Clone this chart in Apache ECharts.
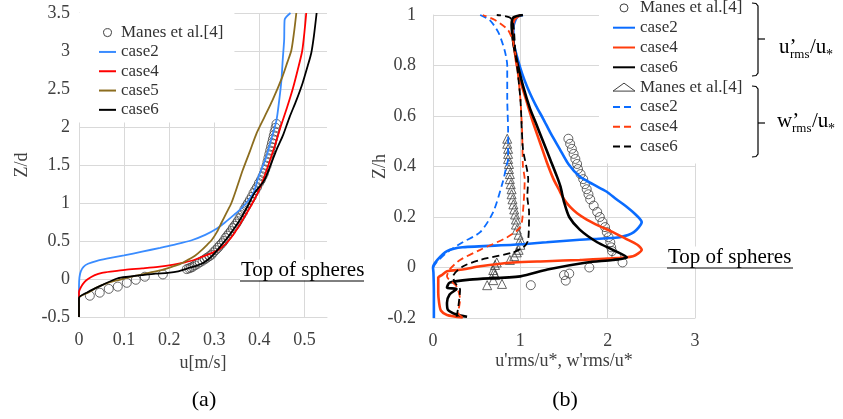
<!DOCTYPE html>
<html>
<head>
<meta charset="utf-8">
<script src="https://cdn.jsdelivr.net/npm/echarts/dist/echarts.min.js"></script>
<style>
html, body { margin: 0; padding: 0; background: #fff; }
#main { width: 843px; height: 419px; }
</style>
</head>
<body>
<div id="main"></div>
<script>
// (a) mean velocity u[m/s] vs Z/d, pairs are [u, Z/d]
var aManes = [[0.024,-0.22],[0.046,-0.18],[0.066,-0.13],[0.086,-0.1],[0.106,-0.05],[0.126,-0.01],[0.146,0.03],[0.186,0.06],[0.239,0.13],
    [0.244,0.14],[0.248,0.15],[0.252,0.16],[0.257,0.18],[0.263,0.2],[0.268,0.22],[0.274,0.24],[0.279,0.26],[0.284,0.28],[0.289,0.3],
    [0.294,0.32],[0.298,0.35],[0.303,0.38],[0.308,0.41],[0.312,0.44],[0.317,0.47],[0.321,0.5],[0.325,0.54],[0.329,0.57],[0.333,0.6],
    [0.337,0.63],[0.341,0.67],[0.345,0.7],[0.349,0.73],[0.352,0.76],[0.356,0.8],[0.36,0.84],[0.364,0.88],[0.367,0.92],[0.371,0.96],
    [0.375,1.0],[0.379,1.04],[0.383,1.08],[0.387,1.13],[0.391,1.17],[0.395,1.21],[0.399,1.26],[0.403,1.3],[0.407,1.35],[0.41,1.39],
    [0.413,1.44],[0.416,1.49],[0.418,1.54],[0.42,1.59],[0.422,1.64],[0.424,1.69],[0.426,1.74],[0.428,1.79],[0.43,1.84],[0.432,1.89],
    [0.434,1.94],[0.436,1.99],[0.438,2.04]];
var aCase2 = [[0,-0.5],[0,-0.1],[0.001,0.02],[0.004,0.1],[0.01,0.16],[0.02,0.2],[0.04,0.24],[0.064,0.27],[0.1,0.31],[0.14,0.36],
    [0.18,0.41],[0.21,0.45],[0.25,0.51],[0.28,0.58],[0.305,0.66],[0.323,0.74],[0.345,0.85],[0.36,0.93],[0.375,1.03],[0.388,1.15],
    [0.398,1.34],[0.415,1.6],[0.427,1.85],[0.438,2.09],[0.444,2.35],[0.449,2.62],[0.452,2.9],[0.455,3.15],[0.456,3.41],[0.469,3.5]];
var aCase4 = [[0,-0.5],[0,-0.17],[0.005,-0.1],[0.012,-0.04],[0.02,0],[0.035,0.05],[0.051,0.08],[0.075,0.1],[0.102,0.12],[0.14,0.14],
    [0.175,0.16],[0.21,0.19],[0.235,0.22],[0.255,0.25],[0.272,0.29],[0.29,0.33],[0.308,0.38],[0.323,0.45],[0.338,0.55],[0.352,0.67],
    [0.367,0.82],[0.382,0.97],[0.396,1.13],[0.408,1.3],[0.42,1.5],[0.434,1.75],[0.447,2.0],[0.461,2.25],[0.474,2.5],[0.485,2.75],
    [0.495,3.0],[0.5,3.25],[0.504,3.5]];
var aCase5 = [[0,-0.5],[0,-0.25],[0.02,-0.18],[0.04,-0.11],[0.064,-0.05],[0.09,-0.01],[0.117,0.03],[0.14,0.06],[0.161,0.09],[0.185,0.12],
    [0.206,0.16],[0.225,0.2],[0.241,0.25],[0.258,0.31],[0.272,0.38],[0.284,0.45],[0.294,0.51],[0.306,0.62],[0.316,0.74],[0.327,0.87],
    [0.338,1.0],[0.35,1.2],[0.363,1.43],[0.379,1.68],[0.394,1.92],[0.412,2.14],[0.429,2.35],[0.451,2.66],[0.462,2.85],[0.471,3.01],
    [0.477,3.25],[0.482,3.5]];
var aCase6 = [[0,-0.5],[0,-0.25],[0.02,-0.17],[0.051,-0.08],[0.086,0.01],[0.11,0.03],[0.139,0.05],[0.17,0.07],[0.197,0.08],[0.22,0.1],
    [0.241,0.14],[0.258,0.17],[0.272,0.2],[0.287,0.26],[0.301,0.34],[0.315,0.44],[0.33,0.55],[0.346,0.68],[0.361,0.82],[0.375,0.97],
    [0.389,1.13],[0.411,1.3],[0.425,1.5],[0.438,1.7],[0.453,1.9],[0.467,2.13],[0.482,2.35],[0.496,2.58],[0.507,2.8],[0.515,2.97],
    [0.521,3.2],[0.527,3.5]];

// (b) turbulence intensities vs Z/h, pairs are [value, Z/h]
var bManesU = [[1.55,0.51],[1.57,0.49],[1.59,0.47],[1.61,0.45],[1.63,0.43],[1.65,0.41],[1.66,0.39],[1.69,0.37],[1.72,0.35],[1.74,0.33],
    [1.76,0.31],[1.78,0.29],[1.8,0.27],[1.84,0.245],[1.88,0.22],[1.91,0.2],[1.94,0.18],[1.97,0.16],[1.99,0.14],[2.01,0.12],[2.03,0.1],
    [2.04,0.08],[2.05,0.065],[2.1,0.045],[2.17,0.02],[1.79,0.0],[1.56,-0.024],[1.5,-0.03],[1.52,-0.052],[1.12,-0.07]];
var bCase2U = [[0.01,-0.2],[0.01,-0.1],[0.005,-0.02],[0,0],[0.05,0.03],[0.16,0.065],[0.34,0.08],[0.92,0.09],[1.3,0.1],[1.68,0.11],
    [1.95,0.115],[2.14,0.12],[2.3,0.14],[2.39,0.18],[2.32,0.21],[2.22,0.24],[2.1,0.27],[1.99,0.3],[1.83,0.33],[1.68,0.36],[1.55,0.41],
    [1.45,0.47],[1.35,0.53],[1.26,0.59],[1.18,0.64],[1.11,0.69],[1.05,0.74],[1.0,0.79],[0.95,0.85],[0.92,0.9],[0.92,0.95],[0.96,0.99],[1.03,1.0]];
var bCase4U = [[0.34,-0.198],[0.16,-0.188],[0.09,-0.17],[0.07,-0.14],[0.06,-0.1],[0.06,-0.06],[0.06,-0.04],[0.1,-0.03],[0.16,-0.015],
    [0.34,-0.008],[0.54,0.005],[0.92,0.02],[1.3,0.025],[1.68,0.03],[2.0,0.035],[2.29,0.045],[2.39,0.07],[2.34,0.09],[2.2,0.115],
    [2.06,0.14],[1.9,0.165],[1.76,0.19],[1.65,0.215],[1.57,0.24],[1.5,0.27],[1.44,0.31],[1.38,0.35],[1.3,0.42],[1.22,0.5],[1.14,0.58],
    [1.07,0.66],[1.0,0.74],[0.96,0.8],[0.93,0.87],[0.91,0.93],[0.93,0.98],[1.0,1.0]];
var bCase6U = [[0.39,-0.195],[0.27,-0.186],[0.17,-0.167],[0.16,-0.14],[0.19,-0.107],[0.27,-0.085],[0.16,-0.08],[0.19,-0.06],[0.42,-0.048],
    [1.0,-0.035],[1.31,-0.008],[1.76,0.02],[2.06,0.03],[2.22,0.04],[2.06,0.07],[1.88,0.1],[1.68,0.15],[1.56,0.2],[1.5,0.26],[1.46,0.32],
    [1.42,0.36],[1.34,0.43],[1.26,0.5],[1.18,0.57],[1.11,0.63],[1.03,0.72],[0.96,0.82],[0.92,0.89],[0.9,0.96],[0.92,0.99],[1.03,1.0]];
var bManesW = [[0.85,0.51],[0.85,0.49],[0.86,0.47],[0.86,0.45],[0.86,0.43],[0.87,0.41],[0.87,0.39],[0.88,0.37],[0.88,0.35],[0.89,0.33],
    [0.9,0.31],[0.9,0.29],[0.91,0.27],[0.92,0.25],[0.93,0.23],[0.94,0.21],[0.95,0.19],[0.95,0.17],[0.96,0.15],[0.98,0.13],[1.0,0.11],
    [1.0,0.09],[0.98,0.07],[0.96,0.06],[0.93,0.045],[0.88,0.03],[0.73,0.02],[0.71,0.01],[0.69,-0.01],[0.7,-0.02],[0.71,-0.03],
    [0.69,-0.05],[0.62,-0.07],[0.79,-0.065]];
var bCase2W = [[0,0],[0.04,0.02],[0.16,0.06],[0.34,0.1],[0.54,0.14],[0.69,0.22],[0.8,0.34],[0.84,0.4],[0.86,0.43],[0.86,0.54],
    [0.85,0.67],[0.85,0.8],[0.82,0.86],[0.75,0.93],[0.65,0.98],[0.54,1.0]];
var bCase4W = [[0.34,-0.198],[0.29,-0.18],[0.31,-0.127],[0.27,-0.075],[0.16,-0.035],[0.19,-0.008],[0.31,0.03],[0.54,0.07],[0.85,0.12],
    [1.0,0.16],[1.03,0.22],[1.05,0.35],[1.03,0.4],[1.02,0.54],[1.0,0.67],[0.96,0.8],[0.92,0.89],[0.86,0.94],[0.71,0.98],[0.57,1.0]];
var bCase6W = [[0.27,-0.195],[0.29,-0.155],[0.31,-0.087],[0.25,-0.06],[0.23,-0.035],[0.34,0.004],[0.54,0.03],[0.92,0.06],[1.05,0.085],
    [1.09,0.11],[1.1,0.22],[1.08,0.28],[1.09,0.35],[1.03,0.47],[1.0,0.67],[0.94,0.87],[0.92,0.96],[0.88,0.99],[0.73,1.0]];

var FONT = "'Liberation Serif', 'Times New Roman', serif";
var GRID = '#d9d9d9';
var myChart = echarts.init(document.getElementById('main'));

function line(name, data, color, width, dashed, idx) {
    return {
        name: name, type: 'line', data: data, xAxisIndex: idx, yAxisIndex: idx,
        symbol: 'none', smooth: 0.25, animation: false,
        lineStyle: { color: color, width: width, type: dashed ? [7, 4] : 'solid' },
        itemStyle: { color: color }
    };
}
function marks(name, data, symbol, idx) {
    return {
        name: name, type: 'scatter', data: data, xAxisIndex: idx, yAxisIndex: idx,
        symbol: symbol, symbolSize: 9, animation: false,
        itemStyle: { color: 'rgba(0,0,0,0)', borderColor: '#404040', borderWidth: 1 }
    };
}
function axisText(size) {
    return { fontFamily: FONT, fontSize: size, color: '#404040' };
}
function valueAxis(idx, min, max, step, name, gap, margin, extra) {
    var ax = {
        gridIndex: idx, type: 'value', min: min, max: max, interval: step,
        name: name, nameLocation: 'middle', nameGap: gap, nameMoveOverlap: false, nameTextStyle: axisText(18),
        axisLine: { show: true, onZero: false, lineStyle: { color: GRID } },
        axisTick: { show: false },
        axisLabel: Object.assign({ margin: margin }, axisText(18)),
        splitLine: { lineStyle: { color: GRID } }
    };
    return Object.assign(ax, extra || {});
}
function legendName(n) { return n.slice(n.indexOf('|') + 1); }
var ring = { color: 'rgba(0,0,0,0)', borderColor: '#404040', borderWidth: 1, opacity: 1 };

option = {
    backgroundColor: '#fff',
    grid: [
        { left: 79, top: 13, width: 248, height: 304 },
        { left: 433, top: 15, width: 262, height: 303 }
    ],
    xAxis: [
        valueAxis(0, 0, 0.55, 0.1, 'u[m/s]', 37, 14, {
            axisLabel: Object.assign({ margin: 14, showMaxLabel: false }, axisText(18)),
            splitLine: { lineStyle: { color: [GRID, GRID, GRID, GRID, GRID, GRID, 'rgba(0,0,0,0)'] } }
        }),
        valueAxis(1, 0, 3, 1, "u'rms/u*, w'rms/u*", 34, 14)
    ],
    yAxis: [
        valueAxis(0, -0.5, 3.5, 0.5, 'Z/d', 48, 9, { nameRotate: 90 }),
        valueAxis(1, -0.2, 1, 0.2, 'Z/h', 44, 17, { nameRotate: 90 })
    ],
    legend: [
        {
            orient: 'vertical', left: 79, top: 13, backgroundColor: '#fff',
            padding: [10, 11, 3, 19], itemWidth: 17, itemHeight: 8, itemGap: 0,
            selectedMode: false, formatter: legendName,
            itemStyle: { opacity: 0 },
            textStyle: { fontFamily: FONT, fontSize: 17, color: '#333', lineHeight: 19.3 },
            data: [{ name: 'a|Manes et al.[4]', itemStyle: ring }, 'a|case2', 'a|case4', 'a|case5', 'a|case6']
        },
        {
            orient: 'vertical', left: 599, top: -2, backgroundColor: '#fff',
            padding: [0, 6, 7, 13], itemWidth: 22, itemHeight: 8, itemGap: 0,
            selectedMode: false, formatter: legendName,
            itemStyle: { opacity: 0 },
            textStyle: { fontFamily: FONT, fontSize: 17, color: '#333', lineHeight: 19.8 },
            data: [{ name: 'u|Manes et al.[4]', itemStyle: ring }, 'u|case2', 'u|case4', 'u|case6',
                   { name: 'w|Manes et al.[4]', itemStyle: ring }, 'w|case2', 'w|case4', 'w|case6']
        }
    ],
    series: [
        marks('a|Manes et al.[4]', aManes, 'circle', 0),
        line('a|case2', aCase2, '#3a8cff', 1.8, false, 0),
        line('a|case4', aCase4, '#ff0000', 1.8, false, 0),
        line('a|case5', aCase5, '#8c6d1f', 1.8, false, 0),
        line('a|case6', aCase6, '#000000', 1.8, false, 0),
        marks('u|Manes et al.[4]', bManesU, 'circle', 1),
        line('u|case2', bCase2U, '#0a6cff', 2.6, false, 1),
        line('u|case4', bCase4U, '#ff3d0d', 2.6, false, 1),
        line('u|case6', bCase6U, '#000000', 2.6, false, 1),
        marks('w|Manes et al.[4]', bManesW, 'triangle', 1),
        line('w|case2', bCase2W, '#0a6cff', 1.8, true, 1),
        line('w|case4', bCase4W, '#ff3d0d', 1.8, true, 1),
        line('w|case6', bCase6W, '#000000', 1.8, true, 1)
    ],
    graphic: [
        { type: 'text', x: 240, y: 270, z: 10, style: { text: 'Top of spheres', fontFamily: FONT, fontSize: 21, fill: '#000', backgroundColor: '#fff', padding: [0, 1, 0, 1], verticalAlign: 'middle', textVerticalAlign: 'middle' } },
        { type: 'line', z: 11, shape: { x1: 240, y1: 281, x2: 364, y2: 281 }, style: { stroke: '#000', lineWidth: 1 } },
        { type: 'text', x: 667, y: 257, z: 10, style: { text: 'Top of spheres', fontFamily: FONT, fontSize: 21, fill: '#000', backgroundColor: '#fff', padding: [0, 1, 0, 1], verticalAlign: 'middle', textVerticalAlign: 'middle' } },
        { type: 'line', z: 11, shape: { x1: 667, y1: 268, x2: 793, y2: 268 }, style: { stroke: '#000', lineWidth: 1 } },
        { type: 'text', x: 204, y: 400, style: { text: '(a)', fontFamily: FONT, fontSize: 22, fill: '#000', align: 'center', textAlign: 'center', verticalAlign: 'middle', textVerticalAlign: 'middle' } },
        { type: 'text', x: 565, y: 400, style: { text: '(b)', fontFamily: FONT, fontSize: 22, fill: '#000', align: 'center', textAlign: 'center', verticalAlign: 'middle', textVerticalAlign: 'middle' } },
        // braces
        { type: 'polyline', shape: { points: [[752, 3], [756, 3.5], [758, 6], [758, 73], [756, 75.5], [752, 76]] }, style: { stroke: '#000', lineWidth: 1.2, fill: null } },
        { type: 'line', shape: { x1: 758, y1: 39, x2: 765, y2: 39 }, style: { stroke: '#000', lineWidth: 1.2 } },
        { type: 'polyline', shape: { points: [[752, 86], [756, 86.5], [758, 89], [758, 154], [756, 156.5], [752, 157]] }, style: { stroke: '#000', lineWidth: 1.2, fill: null } },
        { type: 'line', shape: { x1: 758, y1: 123, x2: 765, y2: 123 }, style: { stroke: '#000', lineWidth: 1.2 } },
        // u'rms/u*
        { type: 'text', x: 779, y: 47, style: { text: 'u’', fontFamily: FONT, fontSize: 21, fill: '#000', verticalAlign: 'middle', textVerticalAlign: 'middle' } },
        { type: 'text', x: 790, y: 55, style: { text: 'rms', fontFamily: FONT, fontSize: 13, fill: '#000', verticalAlign: 'middle', textVerticalAlign: 'middle' } },
        { type: 'text', x: 810, y: 47, style: { text: '/u', fontFamily: FONT, fontSize: 21, fill: '#000', verticalAlign: 'middle', textVerticalAlign: 'middle' } },
        { type: 'text', x: 826, y: 55, style: { text: '*', fontFamily: FONT, fontSize: 14, fill: '#000', verticalAlign: 'middle', textVerticalAlign: 'middle' } },
        // w'rms/u*
        { type: 'text', x: 777, y: 121, style: { text: 'w’', fontFamily: FONT, fontSize: 21, fill: '#000', verticalAlign: 'middle', textVerticalAlign: 'middle' } },
        { type: 'text', x: 792, y: 129, style: { text: 'rms', fontFamily: FONT, fontSize: 13, fill: '#000', verticalAlign: 'middle', textVerticalAlign: 'middle' } },
        { type: 'text', x: 812, y: 121, style: { text: '/u', fontFamily: FONT, fontSize: 21, fill: '#000', verticalAlign: 'middle', textVerticalAlign: 'middle' } },
        { type: 'text', x: 828, y: 129, style: { text: '*', fontFamily: FONT, fontSize: 14, fill: '#000', verticalAlign: 'middle', textVerticalAlign: 'middle' } }
    ]
};
myChart.setOption(option);
</script>
</body>
</html>
